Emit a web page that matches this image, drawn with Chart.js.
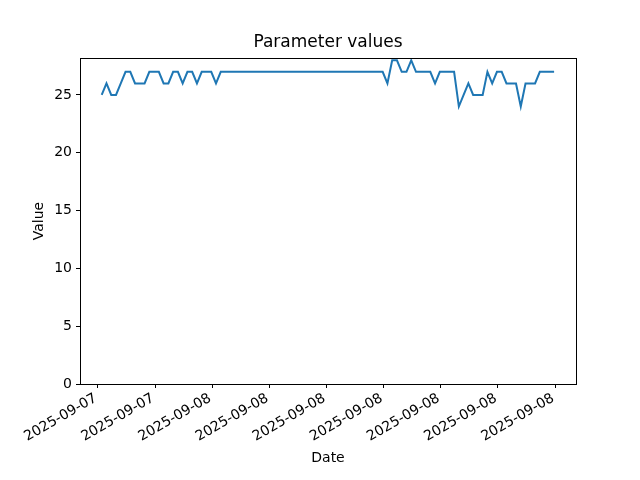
<!DOCTYPE html>
<html>
<head>
<meta charset="utf-8">
<script src="https://cdn.jsdelivr.net/npm/chart.js@4.4.1/dist/chart.umd.min.js"></script>
<style>
  html, body { margin: 0; padding: 0; background: #fff; }
  #wrap { width: 640px; height: 480px; }
</style>
</head>
<body>
<div id="wrap"><canvas id="chart" width="640" height="480"></canvas></div>
<script>
// readings every 15 minutes, first one at 18:12 on 2025-09-07 (hours since 09-07 00:00)
const startHour = 18.2;
const stepHours = 0.25;
const values = [
    25, 26, 25, 25, 26, 27, 27, 26, 26, 26,
    27, 27, 27, 26, 26, 27, 27, 26, 27, 27,
    26, 27, 27, 27, 26, 27, 27, 27, 27, 27,
    27, 27, 27, 27, 27, 27, 27, 27, 27, 27,
    27, 27, 27, 27, 27, 27, 27, 27, 27, 27,
    27, 27, 27, 27, 27, 27, 27, 27, 27, 27,
    26, 28, 28, 27, 27, 28, 27, 27, 27, 27,
    26, 27, 27, 27, 27, 24, 25, 26, 25, 25,
    25, 27, 26, 27, 27, 26, 26, 26, 24, 26,
    26, 26, 27, 27, 27, 27
];

// x ticks every 3 hours
const tickHours = [18, 21, 24, 27, 30, 33, 36, 39, 42];
const tickLabels = ['2025-09-07', '2025-09-07', '2025-09-08', '2025-09-08', '2025-09-08',
                    '2025-09-08', '2025-09-08', '2025-09-08', '2025-09-08'];
const yTicks = [0, 5, 10, 15, 20, 25];
const chartTitle = 'Parameter values';

const points = values.map((v, i) => ({ x: startHour + i * stepHours, y: v }));

const font = 'DejaVu Sans';

// matplotlib style frame round the plot area, title centred over it
const frame = {
    id: 'frame',
    afterDraw(chart) {
        const a = chart.chartArea;
        const c = chart.ctx;
        c.save();
        c.strokeStyle = '#000';
        c.lineWidth = 1;
        c.strokeRect(Math.round(a.left) + 0.5, Math.round(a.top) + 0.5,
                     Math.round(a.right - a.left), Math.round(a.bottom - a.top));
        c.fillStyle = '#000';
        c.font = '17px "' + font + '"';
        c.textAlign = 'center';
        c.textBaseline = 'middle';
        c.fillText(chartTitle, (a.left + a.right) / 2, 43);
        c.restore();
    }
};

new Chart(document.getElementById('chart').getContext('2d'), {
    type: 'line',
    data: {
        datasets: [{
            label: 'Value',
            data: points,
            borderColor: '#1f77b4',
            borderWidth: 2,
            pointRadius: 0,
            fill: false,
            tension: 0
        }]
    },
    options: {
        responsive: false,
        animation: false,
        layout: { padding: { left: 0, right: 64, top: 58, bottom: 0 } },
        plugins: {
            legend: { display: false },
            tooltip: { enabled: false },
            title: { display: false }
        },
        scales: {
            x: {
                type: 'linear',
                min: 17.06,
                max: 43.1,
                afterBuildTicks: s => { s.ticks = tickHours.map(v => ({ value: v })); },
                afterFit: s => { s.height = 96; },
                ticks: {
                    autoSkip: false,
                    minRotation: 30,
                    maxRotation: 30,
                    labelOffset: -2,
                    color: '#000',
                    padding: 2,
                    font: { family: font, size: 14 },
                    callback: (v, i) => tickLabels[i]
                },
                grid: { drawOnChartArea: false, drawTicks: true, tickLength: 4, color: '#000' },
                border: { display: true, color: '#000' },
                title: {
                    display: true,
                    text: 'Date',
                    color: '#000',
                    font: { family: font, size: 14 },
                    padding: { top: 0, bottom: 13 }
                }
            },
            y: {
                min: 0,
                max: 28.2,
                afterBuildTicks: s => { s.ticks = yTicks.map(v => ({ value: v })); },
                afterFit: s => { s.width = 80; },
                ticks: {
                    color: '#000',
                    padding: 4,
                    font: { family: font, size: 14 }
                },
                grid: { drawOnChartArea: false, drawTicks: true, tickLength: 4, color: '#000' },
                border: { display: true, color: '#000' },
                title: {
                    display: true,
                    text: 'Value',
                    color: '#000',
                    font: { family: font, size: 14 },
                    padding: { top: 31, bottom: 0 }
                }
            }
        }
    },
    plugins: [frame]
});
</script>
</body>
</html>
